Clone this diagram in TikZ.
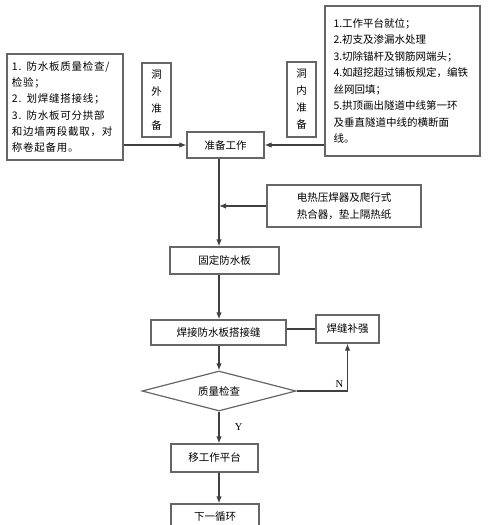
\documentclass[tikz,border=0pt]{standalone}
\usepackage{fontspec}
\setmainfont{Noto Sans CJK SC}
\newfontfamily\widecjk[LetterSpace=7]{Noto Sans CJK SC}
\newfontfamily\latinserif{Liberation Serif}
\usetikzlibrary{positioning,shapes.geometric,arrows.meta}
\colorlet{framecolor}{black!60}
\colorlet{linkcolor}{black!75}

\begin{document}
\begin{tikzpicture}[x=1pt, y=-1pt, >={Latex[length=7pt,width=5.5pt]},
    box/.style={draw=framecolor, line width=1.2pt, inner sep=0pt,
      font=\fontsize{10.5}{16.5}\selectfont},
    link/.style={draw=linkcolor, line width=1.2pt},
    branchlbl/.style={font=\latinserif\fontsize{10.5}{12}\selectfont}]
  \useasboundingbox (0,0) rectangle (493,525);
  % the main flow runs down this column
  \coordinate (col) at (219,0);

  \node[box, minimum width=116pt, minimum height=106pt, text width=106pt, align=left,
    font=\widecjk\fontsize{10.5}{16.3}\selectfont] (out) at (65,107)
    {1. 防水板质量检查/\\检验；\\2. 划焊缝搭接线；\\3. 防水板可分拱部\\和边墙两段截取，对\\称卷起备用。};
  \node[box, minimum width=29pt, minimum height=74pt, align=center,
    font=\fontsize{10.5}{17}\selectfont] (outlbl) at (156.5,100) {洞\\外\\准\\备};
  \node[box, minimum width=155pt, minimum height=150pt, text width=138pt, align=left] (in) at (402.5,81)
    {1.工作平台就位；\\2.初支及渗漏水处理\\3.切除锚杆及钢筋网端头；\\4.如超挖超过铺板规定，编铁\\丝网回填；\\5.拱顶画出隧道中线第一环\\及垂直隧道中线的横断面\\线。};
  \node[box, minimum width=29pt, minimum height=75pt, align=center,
    font=\fontsize{10.5}{17}\selectfont] (inlbl) at (301.5,99.5) {洞\\内\\准\\备};

  \node[box, minimum width=77pt, minimum height=26pt] (prep) at (225.5,145) {准备工作};
  \node[box, minimum width=154pt, minimum height=42pt, align=center] (heat) at (344,206)
    {电热压焊器及爬行式\\热合器，垫上隔热纸};
  \node[box, minimum width=109pt, minimum height=27pt] (fix) at (224.5,260.5) {固定防水板};
  \node[box, minimum width=135pt, minimum height=25pt] (weld) at (218.5,332.5) {焊接防水板搭接缝};
  \node[box, minimum width=63pt, minimum height=28pt] (fixup) at (347.5,329) {焊缝补强};
  \node[box, diamond, aspect=3.85, minimum width=154pt, minimum height=40pt] (check) at (219,391) {质量检查};
  \node[box, minimum width=87pt, minimum height=28pt] (move) at (214.5,458) {移工作平台};
  \node[box, minimum width=88pt, minimum height=26pt] (next) at (215,517) {下一循环};

  \draw[link,->] (out.east |- prep.west) -- (prep.west);
  \draw[link,->] (in.west |- prep.east) -- (prep.east);
  \draw[link,->] (prep.south -| col) -- (fix.north -| col);
  \draw[link,->] (heat.west) -- (heat.west -| col);
  \draw[link,->] (fix.south -| col) -- (weld.north -| col);
  \draw[link] (weld.east |- fixup.west) -- (fixup.west);
  \draw[link,->] (weld.south -| col) -- (check.north);
  \draw[link,->] (check.east) -| node[branchlbl, pos=0.42, above] {N} (fixup.south);
  \draw[link,->] (check.south) -- node[branchlbl, right=12pt] {Y} (move.north -| col);
  \draw[link,->] (move.south -| col) -- (next.north -| col);
\end{tikzpicture}
\end{document}
